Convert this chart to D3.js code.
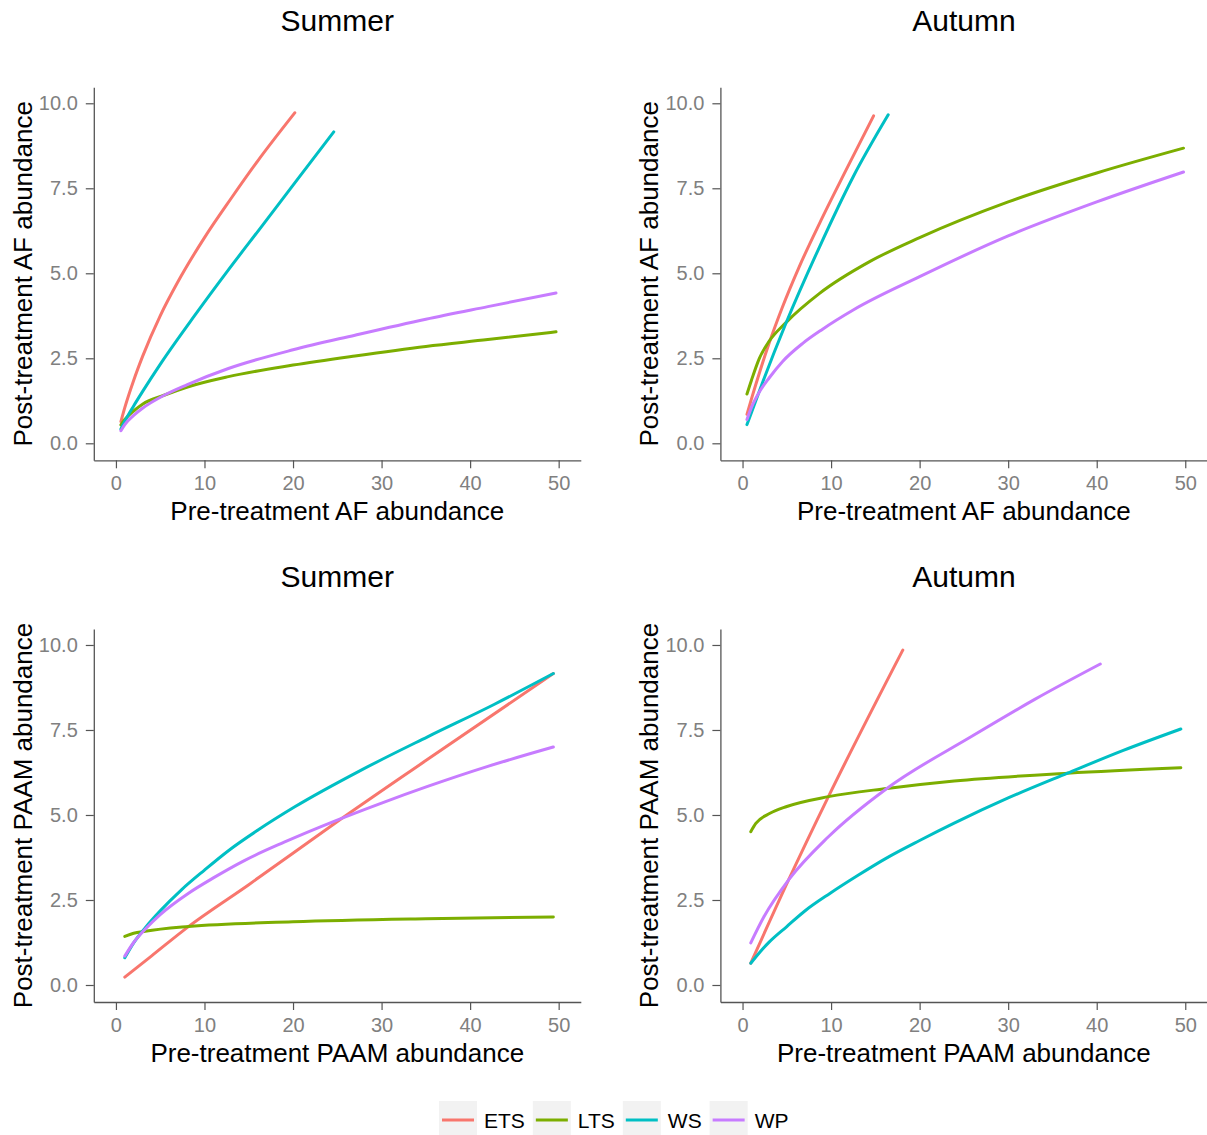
<!DOCTYPE html>
<html>
<head>
<meta charset="utf-8">
<script src="https://cdn.jsdelivr.net/npm/d3@7"></script>
<style>
  body { margin: 0; background: #fff; }
  svg { display: block; font-family: "Liberation Sans", Arial, sans-serif; }
  .tick text { fill: #808080; font-size: 20px; }
  .tick line { stroke: #555; stroke-width: 1.2; }
  .domain { stroke: #555; stroke-width: 1.3; }
</style>
</head>
<body>
<svg id="chart"></svg>
<script>
const series = ["ETS", "LTS", "WS", "WP"];
const colors = ["#F8766D", "#7CAE00", "#00BFC4", "#C77CFF"];
const xTicks = [0, 10, 20, 30, 40, 50];
const yTicks = [0, 2.5, 5, 7.5, 10];

// AF, summer  ([pre, post])
const afSummerETS = [[0.56,0.64],[1,1.05],[2,1.85],[3,2.55],[5,3.75],[7,4.75],[10,6.05],[13,7.2],[16,8.3],[20.2,9.72]];
const afSummerLTS = [[0.56,0.54],[1,0.7],[2,0.95],[3,1.15],[5.5,1.42],[8,1.65],[12.7,1.96],[20,2.3],[27,2.57],[35,2.85],[42,3.05],[49.7,3.28]];
const afSummerWS  = [[0.56,0.42],[1,0.65],[2,1.1],[3,1.52],[5.15,2.38],[8.9,3.76],[12.7,5.1],[16.4,6.36],[20.2,7.66],[24.6,9.16]];
const afSummerWP  = [[0.56,0.37],[1,0.55],[2,0.82],[3,1.03],[5.5,1.42],[8,1.72],[12.7,2.2],[20,2.75],[27,3.18],[35,3.65],[42,4.02],[49.7,4.42]];

// AF, autumn
const afAutumnETS = [[0.5,0.85],[1,1.3],[2,2.15],[3,2.94],[4.5,4.0],[6.4,5.19],[8.7,6.47],[11.7,8.04],[14.8,9.63]];
const afAutumnLTS = [[0.5,1.45],[1,1.85],[1.9,2.5],[3,3.0],[4.9,3.55],[8.7,4.41],[14.4,5.35],[20,6.05],[30,7.1],[40,7.95],[49.8,8.68]];
const afAutumnWS  = [[0.5,0.55],[1,0.9],[2.25,1.78],[4.9,3.53],[8.7,5.78],[12.5,7.84],[16.45,9.66]];
const afAutumnWP  = [[0.5,0.7],[1,1.05],[2,1.55],[3,1.92],[4.5,2.4],[6.8,2.94],[9,3.35],[12.5,3.92],[20,4.9],[30,6.1],[40,7.1],[49.8,7.98]];

// PAAM, summer
const paamSummerETS = [[1,0.23],[4,0.85],[8.15,1.71],[15,2.95],[24.7,4.75],[35,6.6],[49.4,9.16]];
const paamSummerLTS = [[1,1.43],[2,1.52],[3.3,1.58],[8.2,1.72],[20,1.86],[35,1.95],[49.4,2.0]];
const paamSummerWS  = [[1,0.8],[2,1.24],[3.3,1.68],[5,2.18],[7.4,2.8],[10,3.38],[12.7,3.95],[16,4.55],[20.2,5.24],[27.7,6.32],[35.2,7.3],[42.7,8.25],[49.4,9.16]];
const paamSummerWP  = [[1,0.85],[2,1.25],[3.3,1.64],[5,2.07],[8.2,2.7],[11,3.15],[14.5,3.66],[19,4.2],[24.7,4.82],[30,5.35],[35.2,5.84],[42,6.43],[49.4,7.0]];

// PAAM, autumn
const paamAutumnETS = [[0.93,0.64],[5.2,3.09],[9.7,5.54],[18.1,9.85]];
const paamAutumnLTS = [[0.93,4.51],[1.5,4.75],[3.1,5.05],[5,5.25],[9.7,5.54],[16.3,5.78],[23.9,6.0],[36.7,6.23],[49.5,6.39]];
const paamAutumnWS  = [[0.93,0.64],[2,0.98],[3,1.26],[5,1.72],[7,2.17],[9.9,2.7],[13,3.22],[16.3,3.74],[20,4.25],[23.9,4.76],[30,5.5],[36.7,6.23],[43,6.9],[49.5,7.53]];
const paamAutumnWP  = [[0.93,1.24],[2.4,2.0],[5.2,3.09],[9.7,4.36],[16.3,5.78],[25.8,7.3],[33,8.4],[40.4,9.44]];

const W = 1207, H = 1135;
const pw = 487, ph = 373;

const panels = [
  { title: "Summer", xlab: "Pre-treatment AF abundance", ylab: "Post-treatment AF abundance",
    left: 93.8, top: 87.3, titleY: 31, lines: [afSummerETS, afSummerLTS, afSummerWS, afSummerWP] },
  { title: "Autumn", xlab: "Pre-treatment AF abundance", ylab: "Post-treatment AF abundance",
    left: 720.4, top: 87.3, titleY: 31, lines: [afAutumnETS, afAutumnLTS, afAutumnWS, afAutumnWP] },
  { title: "Summer", xlab: "Pre-treatment PAAM abundance", ylab: "Post-treatment PAAM abundance",
    left: 93.8, top: 629, titleY: 587, lines: [paamSummerETS, paamSummerLTS, paamSummerWS, paamSummerWP] },
  { title: "Autumn", xlab: "Pre-treatment PAAM abundance", ylab: "Post-treatment PAAM abundance",
    left: 720.4, top: 629, titleY: 587, lines: [paamAutumnETS, paamAutumnLTS, paamAutumnWS, paamAutumnWP] }
];

const svg = d3.select("#chart").attr("width", W).attr("height", H);

const x = d3.scaleLinear().domain([-2.5, 52.5]).range([0, pw]);
const y = d3.scaleLinear().domain([-0.5, 10.47]).range([ph, 0]);

const line = d3.line()
  .x(d => x(d[0]))
  .y(d => y(d[1]))
  .curve(d3.curveMonotoneX);

panels.forEach(p => {
  const g = svg.append("g").attr("transform", "translate(" + p.left + "," + p.top + ")");

  g.append("g")
    .attr("transform", "translate(0," + ph + ")")
    .call(d3.axisBottom(x).tickValues(xTicks).tickSize(8).tickPadding(8).tickSizeOuter(0));

  g.append("g")
    .call(d3.axisLeft(y).tickValues(yTicks).tickFormat(d3.format(".1f")).tickSize(8).tickPadding(8).tickSizeOuter(0));

  p.lines.forEach((d, i) => {
    g.append("path")
      .datum(d)
      .attr("fill", "none")
      .attr("stroke", colors[i])
      .attr("stroke-width", 3)
      .attr("stroke-linecap", "round")
      .attr("d", line);
  });

  svg.append("text")
    .attr("x", p.left + pw / 2)
    .attr("y", p.titleY)
    .attr("text-anchor", "middle")
    .style("font-size", "30px")
    .text(p.title);

  svg.append("text")
    .attr("x", p.left + pw / 2)
    .attr("y", p.top + ph + 60)
    .attr("text-anchor", "middle")
    .style("font-size", "26px")
    .text(p.xlab);

  svg.append("text")
    .attr("transform", "translate(" + (p.left - 62) + "," + (p.top + ph / 2) + ") rotate(-90)")
    .attr("text-anchor", "middle")
    .style("font-size", "26px")
    .text(p.ylab);
});

// legend
const legend = svg.append("g");
let lx = 439;
series.forEach((s, i) => {
  legend.append("rect")
    .attr("x", lx).attr("y", 1101)
    .attr("width", 38).attr("height", 38)
    .attr("fill", "#f2f2f2");
  legend.append("line")
    .attr("x1", lx + 3).attr("x2", lx + 35)
    .attr("y1", 1120).attr("y2", 1120)
    .attr("stroke", colors[i]).attr("stroke-width", 3);
  const t = legend.append("text")
    .attr("x", lx + 45).attr("y", 1128)
    .style("font-size", "21px")
    .text(s);
  lx += 45 + t.node().getComputedTextLength() + 8;
});
</script>
</body>
</html>
